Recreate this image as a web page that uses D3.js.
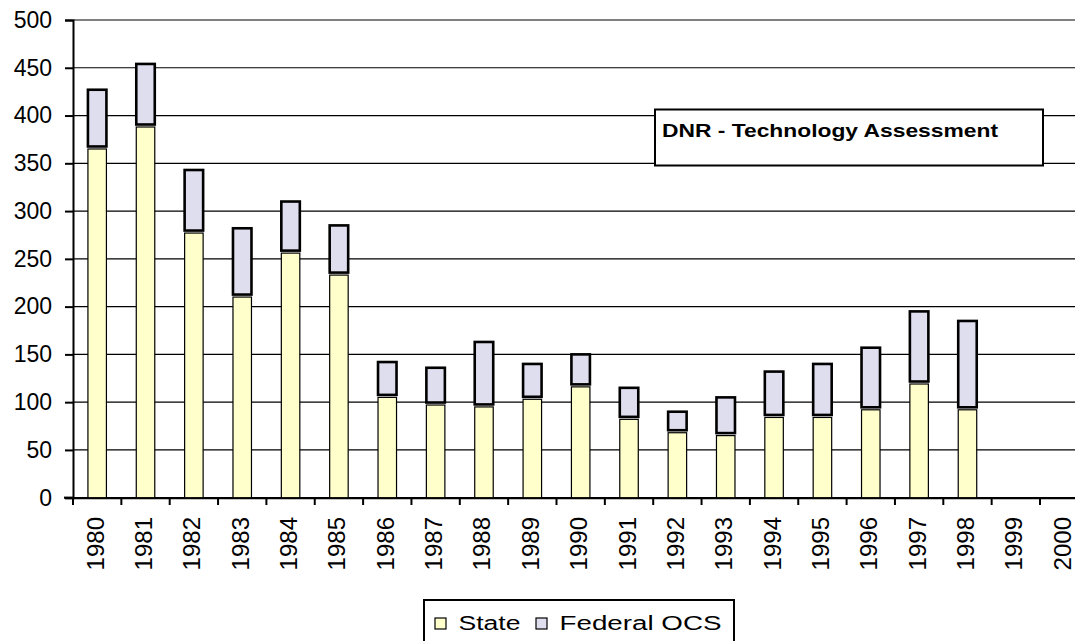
<!DOCTYPE html>
<html><head><meta charset="utf-8">
<script src="https://cdn.jsdelivr.net/npm/d3@7"></script>
<style>body{margin:0;background:#fff}svg{display:block;font-family:"Liberation Sans",Arial,sans-serif}</style>
</head><body>
<svg id="c" width="1075" height="641"></svg>
<script>
const years = ["1980","1981","1982","1983","1984","1985","1986","1987","1988","1989","1990","1991","1992","1993","1994","1995","1996","1997","1998","1999","2000"];
const stateVals = [365,388,277,210,256,233,105,97,95,103,116,82,68,65,84,84,92,119,92,null,null];
const federalVals = [62,66,66,72,54,52,37,39,68,37,34,33,22,40,48,56,65,76,93,null,null];
const yTicks = [0,50,100,150,200,250,300,350,400,450,500];
const seriesNames = ["State","Federal OCS"];
const colors = ["#FFFFCC","#DEDEEE"];
const FONT = "'Liberation Sans', Arial, sans-serif";

const svg = d3.select("#c");
const x = d3.scaleBand().domain(years).range([73, 73 + 21*48.35]).padding(0);
const y = d3.scaleLinear().domain([0,500]).range([497.7, 20]);

// gridlines
svg.append("g").selectAll("line").data(yTicks.filter(d=>d>0)).join("line")
  .attr("x1",73).attr("x2",1075).attr("y1",d=>y(d)).attr("y2",d=>y(d))
  .attr("stroke",d=>d===500?"#808080":"#000").attr("stroke-width",d=>d===500?2:1.2);

// y axis
const yAxis = svg.append("g").attr("transform","translate(73,0)")
  .call(d3.axisLeft(y).tickValues(yTicks).tickSize(8).tickPadding(13));
yAxis.select(".domain").attr("stroke","#000").attr("stroke-width",2);
yAxis.selectAll(".tick line").attr("stroke","#000").attr("stroke-width",2);
yAxis.selectAll("text").attr("font-size",23).attr("fill","#000").attr("font-family",FONT);

// x axis
const xAxis = svg.append("g").attr("transform","translate(0,497.7)")
  .call(d3.axisBottom(x).tickSize(0).tickFormat(""));
xAxis.select(".domain").attr("stroke","#000").attr("stroke-width",2.2);
svg.append("line").attr("x1",64).attr("x2",73).attr("y1",497.7).attr("y2",497.7).attr("stroke","#000").attr("stroke-width",2.2);
svg.append("g").selectAll("line").data(years).join("line")
  .attr("x1",d=>x(d)).attr("x2",d=>x(d)).attr("y1",497.7).attr("y2",505)
  .attr("stroke","#000").attr("stroke-width",2);
svg.append("g").selectAll("text").data(years).join("text")
  .attr("transform",d=>`translate(${x(d)+x.bandwidth()/2-2},517) rotate(-90)`)
  .attr("text-anchor","end").attr("dominant-baseline","central")
  .attr("font-family",FONT).attr("font-size",24).attr("fill","#000").text(d=>d);

// bars
const bw = 18.5;
const rows = years.map((yr,i)=>({yr, s:stateVals[i], f:federalVals[i]})).filter(d=>d.s!=null);
const g = svg.append("g");
g.selectAll("rect.st").data(rows).join("rect").attr("class","st")
  .attr("x",d=>x(d.yr)+x.bandwidth()/2-bw/2).attr("width",bw)
  .attr("y",d=>y(d.s)).attr("height",d=>y(0)-y(d.s))
  .attr("fill",colors[0]).attr("stroke","#000").attr("stroke-width",1.2);
g.selectAll("rect.fe").data(rows).join("rect").attr("class","fe")
  .attr("x",d=>x(d.yr)+x.bandwidth()/2-bw/2).attr("width",bw)
  .attr("y",d=>y(d.s+d.f)).attr("height",d=>y(d.s)-y(d.s+d.f)-2.5)
  .attr("fill",colors[1]).attr("stroke","#000").attr("stroke-width",2.6);

// title box
svg.append("rect").attr("x",655).attr("y",109.5).attr("width",388).attr("height",56)
  .attr("fill","#fff").attr("stroke","#000").attr("stroke-width",2);
svg.append("text").attr("x",662).attr("y",136.5).attr("font-family",FONT).attr("font-size",19).attr("font-weight","bold")
  .attr("textLength",336).attr("lengthAdjust","spacingAndGlyphs").attr("fill","#000")
  .text("DNR - Technology Assessment");

// legend
svg.append("rect").attr("x",424).attr("y",600).attr("width",310).attr("height",60)
  .attr("fill","#fff").attr("stroke","#000").attr("stroke-width",2);
const legX = [435, 536], legTX = [458.5, 559.5], legTL = [62, 162];
seriesNames.forEach((n,i)=>{
  svg.append("rect").attr("x",legX[i]).attr("y",618).attr("width",11).attr("height",11)
    .attr("fill",colors[i]).attr("stroke","#000").attr("stroke-width",1.2);
  svg.append("text").attr("x",legTX[i]).attr("y",630).attr("font-family",FONT).attr("font-size",20)
    .attr("textLength",legTL[i]).attr("lengthAdjust","spacingAndGlyphs").attr("fill","#000").text(n);
});
</script>
</body></html>
